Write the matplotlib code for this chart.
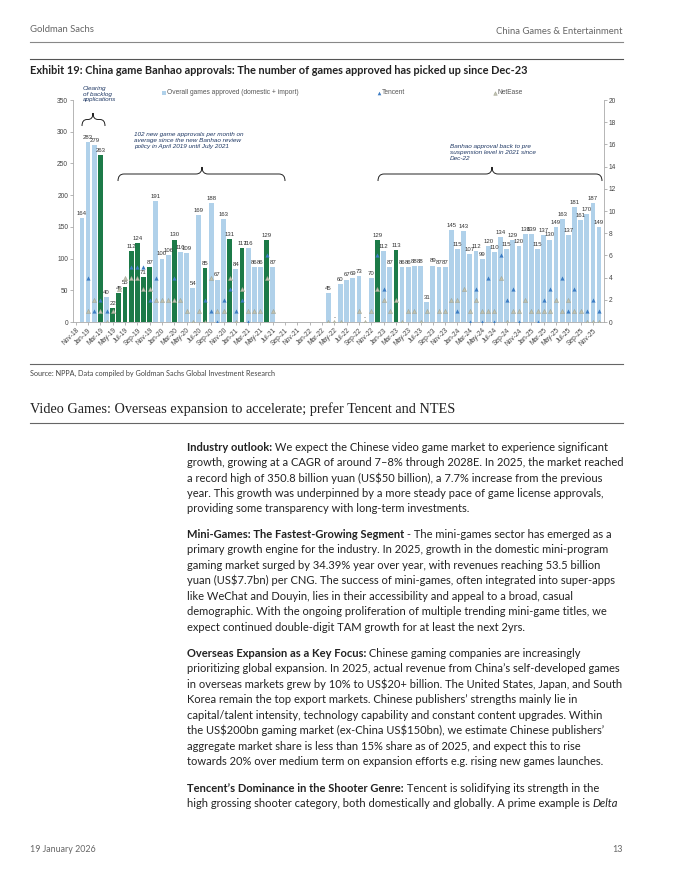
import matplotlib
matplotlib.use('Agg')
import matplotlib.pyplot as plt
from matplotlib.path import Path
from matplotlib.patches import PathPatch
from matplotlib.lines import Line2D
import numpy as np
import pandas as pd

# ---------------- data ----------------
months = list(pd.date_range('2018-11-01', periods=86, freq='MS').strftime('%b-%y'))

total_approved = [None, 164, 283, 279, 263, 40, 22, 45, 55, 112, 124, 71, 87,
                  191, 100, 106, 130, 110, 109, 54, 169, 85, 188, 67, 163,
                  131, 84, 117, 116, 86, 86, 129, 87, None, None, None, None,
                  None, None, None, None, 45, 0, 60, 67, 69, 73, 0, 70,
                  129, 112, 87, 113, 86, 86, 88, 88, 31, 89, 87, 87,
                  145, 115, 143, 107, 112, 99, 120, 110, 134, 115, 129, 120,
                  138, 139, 115, 137, 130, 149, 163, 137, 181, 161, 170, 187,
                  149]

import_months = ['Mar-19', 'May-19', 'Jun-19', 'Jul-19', 'Aug-19', 'Sep-19', 'Oct-19',
                 'Nov-19', 'Mar-20', 'Aug-20', 'Dec-20', 'Feb-21', 'Jun-21', 'Dec-22', 'Mar-23']

tencent = [None, None, 4, 1, 2, 1, None, None, None, 5, 5, 5, 2,
           4, None, None, 4, None, None, None, None, 2, 1, 0, 2,
           3, 1, 2, 0, None, None, 6, None, None, None, None, None,
           None, None, None, None, None, None, None, None, None, None, None, None,
           6, 3, None, None, None, None, None, None, None, None, None, None,
           None, 1, None, 0, 3, 0, 4, 0, 6, 2, 3, 0,
           None, None, 0, 2, 3, None, 4, 1, 3, None, 1, 2,
           1]

netease = [None, None, 1, 2, 1, 0, 1, 3, 4, 4, 4, 3, 3,
           2, 2, 2, 2, 2, 1, 0, 1, 0, 4, 1, 1,
           4, 0, 3, 1, 1, 1, 4, 1, None, None, None, None,
           None, None, None, None, 0, 0, 0, None, None, 1, 0, 1,
           3, 2, 1, 2, 0, 1, 1, 0, 1, None, 1, 1,
           2, 2, 3, 1, 2, 1, 1, 1, 4, 0, 1, 1,
           2, 1, 1, 1, 1, 2, 1, 2, 1, 1, 0, 0,
           0]

left_ticks = [0, 50, 100, 150, 200, 250, 300, 350]
right_ticks = [0, 2, 4, 6, 8, 10, 12, 14, 16, 18, 20]

# ---------------- figure ----------------
W, H = 680, 880
fig = plt.figure(figsize=(W / 100, H / 100), dpi=100)
fig.patch.set_facecolor('white')


def fx(x):
    return x / W


def fy(y):
    return 1 - y / H


def hline(y, x0=30, x1=623, color='#777777', lw=0.8):
    fig.add_artist(Line2D([fx(x0), fx(x1)], [fy(y), fy(y)], color=color, lw=lw,
                          transform=fig.transFigure))


SANS = ['Lato', 'DejaVu Sans']
CHART = ['Liberation Sans', 'DejaVu Sans']

# header
fig.text(fx(30), fy(29), 'Goldman Sachs', fontsize=6.8, color='#666666', family=SANS, va='center')
fig.text(fx(623), fy(32), 'China Games & Entertainment', fontsize=6.8, color='#666666',
         family=SANS, va='center', ha='right')
hline(42, color='#888888', lw=0.8)
hline(59, color='#555555', lw=0.8)
fig.text(fx(30), fy(70), 'Exhibit 19: China game Banhao approvals: The number of games approved has picked up since Dec-23',
         fontsize=7.9, fontweight='bold', color='#222222', family=SANS, va='center')

# ---------------- chart ----------------
LIGHT = '#b0d1ea'
GREEN = '#1c7a48'
TENC = '#3c7cc3'
NETE = '#bfc1b0'

ax = fig.add_axes([fx(73), fy(322), (604 - 73) / W, (322 - 100) / H])
x = np.arange(len(months))
vals = np.array([np.nan if v is None else v for v in total_approved], float)
colors = [GREEN if m in import_months else LIGHT for m in months]
ax.bar(x, np.nan_to_num(vals), width=0.78, color=colors, zorder=2)
for i, v in enumerate(total_approved):
    if v is None:
        continue
    lab = '-' if v == 0 else str(v)
    ax.annotate(lab, (i, v), xytext=(0, 1.5), textcoords='offset points', ha='center',
                va='bottom', fontsize=4.3, color='#333333', family=CHART, zorder=5)
ax.set_xlim(-0.45, 85.8)
ax.set_ylim(0, 350)
ax.set_yticks(left_ticks)
ax.set_yticklabels([str(t) for t in left_ticks], fontsize=4.8, color='#444444', family=CHART)
ax.set_xticks(x[::2])
ax.set_xticklabels(months[::2], rotation=45, ha='right', rotation_mode='anchor',
                   fontsize=4.8, color='#444444', family=CHART)
ax.tick_params(axis='both', length=2, width=0.5, pad=1.5, color='#999999')
for s in ['top', 'right']:
    ax.spines[s].set_visible(False)
for s in ['left', 'bottom']:
    ax.spines[s].set_color('#aaaaaa')
    ax.spines[s].set_linewidth(0.6)

ax2 = ax.twinx()
tv = np.array([np.nan if v is None else v for v in tencent], float)
nv = np.array([np.nan if v is None else v for v in netease], float)
ax2.plot(x, nv, ls='none', marker='^', ms=3.0, color=NETE, markeredgewidth=0.3,
         markeredgecolor='#9a9c88', zorder=3)
ax2.plot(x, tv, ls='none', marker='^', ms=3.0, color=TENC, markeredgewidth=0, zorder=4)
ax2.set_ylim(0, 20)
ax2.set_yticks(right_ticks)
ax2.set_yticklabels([str(t) for t in right_ticks], fontsize=4.8, color='#444444', family=CHART)
ax2.tick_params(axis='y', length=2, width=0.5, pad=1.5, color='#999999')
for s in ['top', 'left', 'bottom']:
    ax2.spines[s].set_visible(False)
ax2.spines['right'].set_color('#aaaaaa')
ax2.spines['right'].set_linewidth(0.6)
ax2.set_xlim(ax.get_xlim())

# legend
def legend_item(xp, yp, marker, color, text, ec=None):
    fig.add_artist(Line2D([fx(xp)], [fy(yp)], marker=marker, ms=2.6, color=color, ls='none',
                          markeredgewidth=0.3 if ec else 0, markeredgecolor=ec or color,
                          transform=fig.transFigure))
    fig.text(fx(xp + 3), fy(yp), text, fontsize=4.8, color='#555555', family=CHART, va='center')


legend_item(164, 93, 's', LIGHT, 'Overall games approved (domestic + import)')
legend_item(379, 93, '^', TENC, 'Tencent')
legend_item(495, 93, '^', NETE, 'NetEase', ec='#9a9c88')

# annotations
NAVY = '#1f3864'
fig.text(fx(83), fy(86), 'Clearing\nof backlog\napplications', fontsize=4.6, style='italic',
         color=NAVY, family=CHART, va='top', linespacing=1.15)
fig.text(fx(134), fy(132), '102 new game approvals per month on\naverage since the new Banhao review\npolicy in April 2019 until July 2021',
         fontsize=4.6, style='italic', color=NAVY, family=CHART, va='top', linespacing=1.25)
fig.text(fx(450), fy(144), 'Banhao approval back to pre\nsuspension level in 2021 since\nDec-22',
         fontsize=4.6, style='italic', color=NAVY, family=CHART, va='top', linespacing=1.25)


def brace(x0, x1, ytip, ybase, xm=None, r=6):
    xm = (x0 + x1) / 2 if xm is None else xm
    ym = (ytip + ybase) / 2
    pts = [(x0, ybase), (x0, ym), (x0 + r, ym), (xm - r, ym), (xm, ym), (xm, ytip),
           (xm, ym), (xm + r, ym), (x1 - r, ym), (x1, ym), (x1, ybase)]
    codes = [Path.MOVETO, Path.CURVE3, Path.CURVE3, Path.LINETO, Path.CURVE3, Path.CURVE3,
             Path.CURVE3, Path.CURVE3, Path.LINETO, Path.CURVE3, Path.CURVE3]
    path = Path([(fx(a), fy(b)) for a, b in pts], codes)
    fig.add_artist(PathPatch(path, fill=False, lw=0.7, color='#222222', transform=fig.transFigure))


brace(82, 105, 113, 126, xm=93, r=5)
brace(118, 285, 167, 181, xm=202)
brace(378, 602, 167, 181, xm=492)

# bottom of exhibit
hline(364, color='#666666', lw=0.8)
fig.text(fx(30), fy(373), 'Source: NPPA, Data compiled by Goldman Sachs Global Investment Research',
         fontsize=5.2, color='#444444', family=SANS, va='center')

# section heading
fig.text(fx(30), fy(409), 'Video Games: Overseas expansion to accelerate; prefer Tencent and NTES',
         fontsize=10.3, color='#222222', family=['Liberation Serif', 'DejaVu Serif'], va='center')
hline(423, color='#666666', lw=0.8)

# body text
BODY = 8.05
fig.canvas.draw()
renderer = fig.canvas.get_renderer()


def body_line(y, segments, x0=187):
    xp = x0
    for text, weight, style in segments:
        t = fig.text(fx(xp), fy(y), text, fontsize=BODY, fontweight=weight, style=style,
                     color='#222222', family=SANS, va='center', parse_math=False)
        xp += t.get_window_extent(renderer).width


N = ('normal', 'normal')
paras = [
    (447, [[('Industry outlook:', 'bold', 'normal'), (' We expect the Chinese video game market to experience significant',) + N],
           [('growth, growing at a CAGR of around 7–8% through 2028E. In 2025, the market reached',) + N],
           [('a record high of 350.8 billion yuan (US$50 billion), a 7.7% increase from the previous',) + N],
           [('year. This growth was underpinned by a more steady pace of game license approvals,',) + N],
           [('providing some transparency with long-term investments.',) + N]]),
    (534, [[('Mini-Games: The Fastest-Growing Segment', 'bold', 'normal'), (' - The mini-games sector has emerged as a',) + N],
           [('primary growth engine for the industry. In 2025, growth in the domestic mini-program',) + N],
           [('gaming market surged by 34.39% year over year, with revenues reaching 53.5 billion',) + N],
           [('yuan (US$7.7bn) per CNG. The success of mini-games, often integrated into super-apps',) + N],
           [('like WeChat and Douyin, lies in their accessibility and appeal to a broad, casual',) + N],
           [('demographic. With the ongoing proliferation of multiple trending mini-game titles, we',) + N],
           [('expect continued double-digit TAM growth for at least the next 2yrs.',) + N]]),
    (653, [[('Overseas Expansion as a Key Focus:', 'bold', 'normal'), (' Chinese gaming companies are increasingly',) + N],
           [('prioritizing global expansion. In 2025, actual revenue from China’s self-developed games',) + N],
           [('in overseas markets grew by 10% to US$20+ billion. The United States, Japan, and South',) + N],
           [('Korea remain the top export markets. Chinese publishers’ strengths mainly lie in',) + N],
           [('capital/talent intensity, technology capability and constant content upgrades. Within',) + N],
           [('the US$200bn gaming market (ex-China US$150bn), we estimate Chinese publishers’',) + N],
           [('aggregate market share is less than 15% share as of 2025, and expect this to rise',) + N],
           [('towards 20% over medium term on expansion efforts e.g. rising new games launches.',) + N]]),
    (788, [[('Tencent’s Dominance in the Shooter Genre:', 'bold', 'normal'), (' Tencent is solidifying its strength in the',) + N],
           [('high grossing shooter category, both domestically and globally. A prime example is ',) + N,
            ('Delta', 'normal', 'italic')]]),
]
LS = 15.5
for y0, lines in paras:
    for k, segs in enumerate(lines):
        body_line(y0 + k * LS, segs)

# footer
fig.text(fx(30), fy(849), '19 January 2026', fontsize=6.4, color='#666666', family=SANS, va='center')
fig.text(fx(623), fy(849), '13', fontsize=6.4, color='#666666', family=SANS, va='center', ha='right')

fig.savefig('out.png', dpi=100, facecolor='white')
